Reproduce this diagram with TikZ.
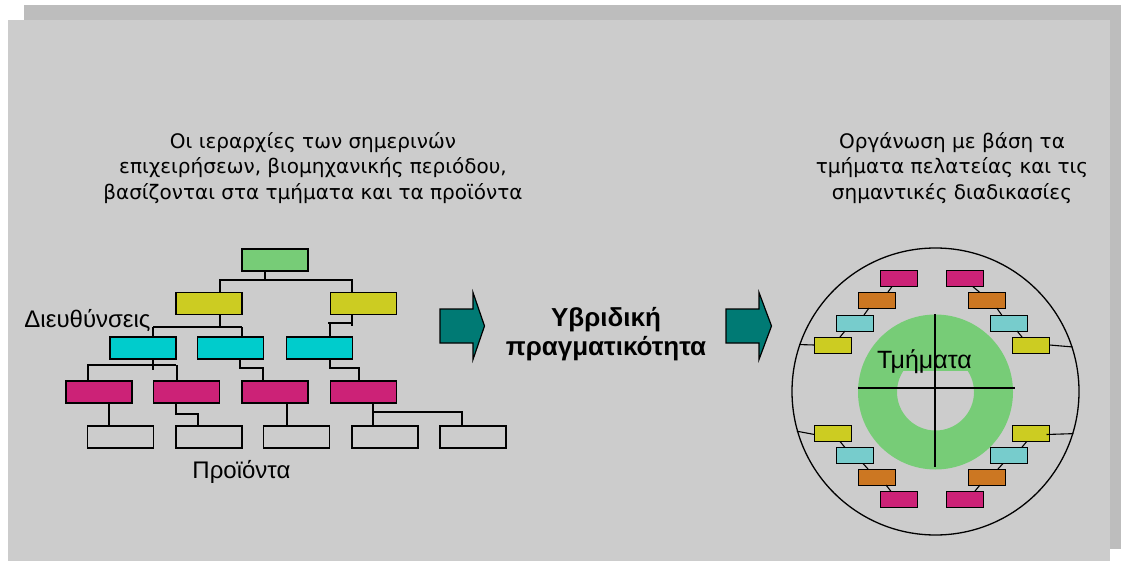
\documentclass[tikz,border=0pt]{standalone}
\usepackage{fontspec}
\setmainfont{Liberation Sans}
\newfontfamily\titlefont{DejaVu Sans}
\definecolor{frontgray}{RGB}{204,204,204}
\definecolor{backgray}{RGB}{189,189,189}
\definecolor{tgreen}{RGB}{119,204,119}
\definecolor{tyellow}{RGB}{204,204,34}
\definecolor{tcyan}{RGB}{0,204,204}
\definecolor{tmag}{RGB}{204,34,119}
\definecolor{torange}{RGB}{204,119,34}
\definecolor{lcyan}{RGB}{119,204,204}
\definecolor{arrowteal}{RGB}{0,122,116}
\begin{document}
\begin{tikzpicture}[x=1pt,y=-1pt,
  box/.style={draw=black, line width=1.2pt, minimum width=66pt, minimum height=22pt, inner sep=0pt, outer sep=0pt},
  sbox/.style={draw=black, line width=1pt, minimum width=37pt, minimum height=16pt, inner sep=0pt, outer sep=0pt},
  link/.style={line width=1.2pt},
  slink/.style={line width=1.1pt},
  bigarrow/.style={fill=arrowteal, draw=black, line width=1.2pt, line join=miter},
  ttl/.style={font=\titlefont\fontsize{20}{25.5}\selectfont, align=center, inner sep=0pt},
  lbl/.style={font=\fontsize{24}{28}\selectfont, inner sep=0pt, anchor=base}]
\useasboundingbox (0,0) rectangle (1121,561);
\fill[backgray] (24,5) rectangle (1121,549);
\fill[frontgray] (8,20) rectangle (1110,561);

% titles
\node[ttl] (ltitle) at (313,168) {Οι ιεραρχίες των σημερινών\\επιχειρήσεων, βιομηχανικής περιόδου,\\βασίζονται στα τμήματα και τα προϊόντα};
\node[ttl] (rtitle) at (952,168) {Οργάνωση με βάση τα\\τμήματα πελατείας και τις\\σημαντικές διαδικασίες};
\node[font=\bfseries\fontsize{26}{29}\selectfont, align=center, inner sep=0pt] (mid) at (606,334) {Υβριδική\\πραγματικότητα};

% tree boxes
\node[box, fill=tgreen] (g) at (275,260) {};
\node[box, fill=tyellow] (y1) at (209,303.5) {};
\node[box, fill=tyellow] (y2) at (363.5,303.5) {};
\node[box, fill=tcyan] (c1) at (143,348) {};
\node[box, fill=tcyan] (c2) at (230.5,348) {};
\node[box, fill=tcyan] (c3) at (319.5,348) {};
\node[box, fill=tmag] (m1) at (99,392) {};
\node[box, fill=tmag] (m2) at (186.5,392) {};
\node[box, fill=tmag] (m3) at (275,392) {};
\node[box, fill=tmag] (m4) at (363.5,392) {};
\node[box] (w1) at (120.5,437) {};
\node[box] (w2) at (209,437) {};
\node[box] (w3) at (296.5,437) {};
\node[box] (w4) at (385,437) {};
\node[box] (w5) at (473,437) {};

% tree connectors
\draw[link] (g.south -| 265,0) -- (265,280);
\draw[link] (219,280) -- (353,280);
\draw[link] (y1.north -| 220,0) -- (220,280);
\draw[link] (y2.north -| 352,0) -- (352,280);
\draw[link] (y1.south -| 220,0) -- (220,327);
\draw[link] (153,327) -- (242,327);
\draw[link] (c1.north -| 153,0) -- (153,327);
\draw[link] (c2.north -| 242,0) -- (242,327);
\draw[link] (y2.south -| 352,0) -- (352,326);
\draw[link] (328,323) -- (352,323);
\draw[link] (c3.north -| 330,0) -- (330,323);
\draw[link] (c1.south -| 153,0) -- (153,370);
\draw[link] (87,365) -- (176,365);
\draw[link] (m1.north -| 88,0) -- (88,365);
\draw[link] (m2.north -| 177,0) -- (177,365);
\draw[link] (c2.south -| 240,0) -- (240,368) -- (263,368) -- (m3.north -| 263,0);
\draw[link] (c3.south -| 330,0) -- (330,368) -- (359,368) -- (m4.north -| 359,0);
\draw[link] (m1.south -| 109,0) -- (w1.north -| 109,0);
\draw[link] (m2.south -| 176,0) -- (176,414) -- (198,414) -- (w2.north -| 198,0);
\draw[link] (m3.south -| 287,0) -- (w3.north -| 287,0);
\draw[link] (m4.south -| 373,0) -- (w4.north -| 373,0);
\draw[link] (372,412) -- (462,412) -- (w5.north -| 462,0);

\node[lbl] (dieu) at (87.5,327) {Διευθύνσεις};
\node[lbl] (proi) at (241.5,478) {Προϊόντα};

% arrows
\draw[bigarrow] (440,309) -- (473,309) -- (473,292.5) -- (484.5,326) -- (473,359.5) -- (473,343) -- (440,343) -- cycle;
\draw[bigarrow] (726,309) -- (759,309) -- (759,292.5) -- (771.5,326) -- (759,359.5) -- (759,343) -- (726,343) -- cycle;

% circle organisation
\node[circle, draw=black, line width=1.3pt, minimum size=287pt, inner sep=0pt] (circ) at (935.5,391.5) {};
\fill[tgreen, even odd rule] (935.5,392) circle[radius=77.5pt] (935.5,392) circle[radius=38.5pt];
\node[fill=tgreen, inner sep=1pt, text depth=1.5pt, anchor=base, font=\fontsize{25}{28}\selectfont] (tm) at (924.5,368) {Τμήματα};
\draw[link] (935,314) -- (935,467);
\draw[link] (858,388) -- (1015,388);

% upper left chain
\node[sbox, fill=tmag] (mgUL) at (899,278.5) {};
\node[sbox, fill=torange] (orUL) at (876.5,300) {};
\node[sbox, fill=lcyan] (cyUL) at (855,323) {};
\node[sbox, fill=tyellow] (yeUL) at (833,345) {};
% upper right chain
\node[sbox, fill=tmag] (mgUR) at (965,278.5) {};
\node[sbox, fill=torange] (orUR) at (987,300) {};
\node[sbox, fill=lcyan] (cyUR) at (1009,323) {};
\node[sbox, fill=tyellow] (yeUR) at (1031,345) {};
% lower left chain
\node[sbox, fill=tyellow] (yeLL) at (833,433.5) {};
\node[sbox, fill=lcyan] (cyLL) at (855,455.5) {};
\node[sbox, fill=torange] (orLL) at (876.5,477) {};
\node[sbox, fill=tmag] (mgLL) at (899,499) {};
% lower right chain
\node[sbox, fill=tyellow] (yeLR) at (1031,433.5) {};
\node[sbox, fill=lcyan] (cyLR) at (1009,455.5) {};
\node[sbox, fill=torange] (orLR) at (987,477) {};
\node[sbox, fill=tmag] (mgLR) at (965,499) {};

\draw[slink] ([xshift=-7pt]mgUL.south) -- ([xshift=11.5pt]orUL.north);
\draw[slink] ([xshift=-7.5pt]orUL.south) -- ([xshift=9pt]cyUL.north);
\draw[slink] ([xshift=-10pt]cyUL.south) -- ([xshift=7pt]yeUL.north);
\draw[slink] ([xshift=7.7pt]mgUR.south) -- ([xshift=-7.7pt]orUR.north);
\draw[slink] ([xshift=9.7pt]orUR.south) -- ([xshift=-7.3pt]cyUR.north);
\draw[slink] ([xshift=8pt]cyUR.south) -- ([xshift=-9pt]yeUR.north);
\draw[slink] ([xshift=7pt]yeLL.south) -- ([xshift=-10pt]cyLL.north);
\draw[slink] ([xshift=8pt]cyLL.south) -- ([xshift=-8.5pt]orLL.north);
\draw[slink] ([xshift=9.5pt]orLL.south) -- ([xshift=-8.3pt]mgLL.north);
\draw[slink] ([xshift=-4.3pt]yeLR.south) -- ([xshift=12.7pt]cyLR.north);
\draw[slink] ([xshift=-6pt]cyLR.south) -- ([xshift=11pt]orLR.north);
\draw[slink] ([xshift=-7pt]orLR.south) -- ([xshift=10pt]mgLR.north);

\draw[slink] (yeUL.west) -- (circ.161.5);
\draw[slink] (yeUR.east) -- (circ.18.5);
\draw[slink] ([yshift=-1pt]yeLL.west) -- (circ.196.4);
\draw[slink] ([xshift=-3pt,yshift=-1pt]yeLR.east) -- (circ.343.6);
\end{tikzpicture}
\end{document}
